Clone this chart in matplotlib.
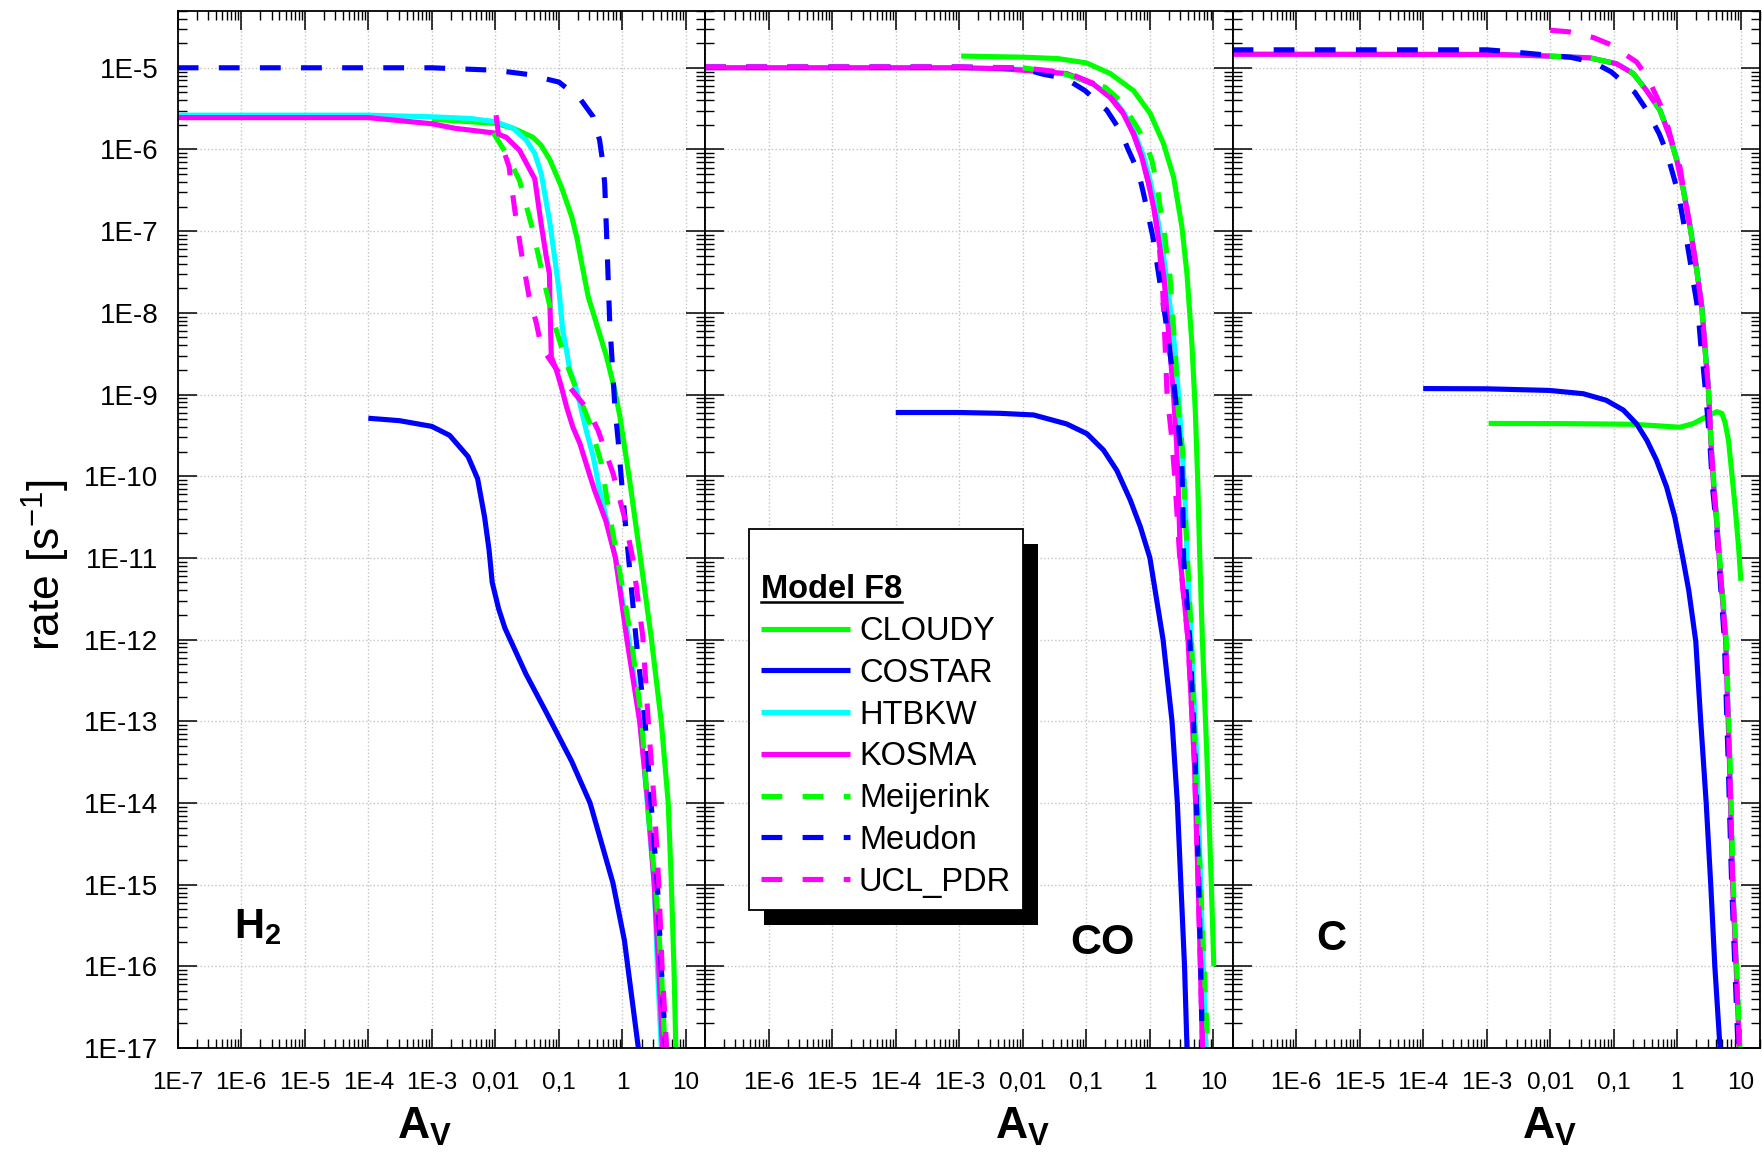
import numpy as np
import matplotlib
matplotlib.use('Agg')
import matplotlib.pyplot as plt
from matplotlib.ticker import FixedLocator, FixedFormatter, LogLocator, NullFormatter
from matplotlib.patches import Rectangle
from matplotlib.lines import Line2D

plt.rcParams['font.family'] = ['Liberation Sans', 'DejaVu Sans']
plt.rcParams['mathtext.fontset'] = 'custom'
plt.rcParams['mathtext.rm'] = 'Liberation Sans'
plt.rcParams['mathtext.bf'] = 'Liberation Sans:bold'
plt.rcParams['mathtext.it'] = 'Liberation Sans:italic'

# ---- data: log10(A_V) and log10(rate) ----
models = ['CLOUDY', 'COSTAR', 'HTBKW', 'KOSMA', 'Meijerink', 'Meudon', 'UCL_PDR']
panel_names = ['H2', 'CO', 'C']

# H2
h2_cloudy_lav = [-3.0, -2.4, -2.0, -1.72, -1.41, -1.28, -1.14, -0.96, -0.80, -0.72, -0.65, -0.54, -0.41, -0.25, -0.12, -0.04, 0.04, 0.12, 0.28, 0.45, 0.61, 0.72, 0.77, 0.81, 0.84]
h2_cloudy_lr = [-5.63, -5.66, -5.68, -5.74, -5.85, -5.95, -6.13, -6.46, -6.82, -7.07, -7.36, -7.80, -8.13, -8.54, -8.95, -9.27, -9.68, -10.09, -10.99, -11.96, -13.0, -14.0, -15.0, -16.0, -17.0]
h2_costar_lav = [-4.0, -3.51, -3.0, -2.72, -2.43, -2.28, -2.17, -2.1, -2.05, -1.95, -1.85, -1.52, -1.2, -0.8, -0.51, -0.15, 0.03, 0.25]
h2_costar_lr = [-9.29, -9.32, -9.39, -9.5, -9.76, -10.03, -10.5, -10.9, -11.3, -11.62, -11.86, -12.42, -12.89, -13.49, -14.0, -14.98, -15.68, -17.0]
h2_htbkw_lav = [-7.0, -4.0, -3.0, -2.4, -2.0, -1.72, -1.51, -1.38, -1.28, -1.14, -1.07, -1.0, -0.94, -0.88, -0.83, -0.75, -0.67, -0.57, -0.46, -0.38, -0.26, -0.11, 0.1, 0.28, 0.39, 0.5, 0.55, 0.61]
h2_htbkw_lr = [-5.58, -5.58, -5.6, -5.62, -5.66, -5.74, -5.89, -6.05, -6.29, -6.91, -7.31, -7.72, -8.21, -8.46, -8.7, -8.87, -9.11, -9.44, -9.76, -10.09, -10.5, -11.0, -12.0, -13.0, -14.0, -15.0, -16.0, -17.0]
h2_kosma_lav = [-7.0, -4.0, -3.0, -2.64, -2.0, -1.83, -1.62, -1.38, -1.28, -1.2, -1.15, -1.14, -1.12, -1.04, -0.96, -0.88, -0.78, -0.67, -0.57, -0.44, -0.26, -0.11, 0.07, 0.27, 0.4, 0.5, 0.57, 0.63]
h2_kosma_lr = [-5.61, -5.61, -5.685, -5.74, -5.8, -5.85, -6.01, -6.36, -6.91, -7.31, -7.52, -7.93, -8.54, -8.7, -8.91, -9.15, -9.4, -9.6, -9.85, -10.17, -10.55, -11.0, -12.0, -13.0, -14.0, -15.0, -16.0, -17.0]
h2_meijerink_lav = [-2.03, -1.83, -1.62, -1.41, -1.25, -1.09, -0.88, -0.72, -0.51, -0.33, -0.22, -0.08, 0.14, 0.305, 0.39, 0.52, 0.61, 0.667]
h2_meijerink_lr = [-5.8, -6.05, -6.38, -6.99, -7.56, -8.09, -8.62, -8.95, -9.36, -9.85, -10.4, -11.0, -12.0, -13.0, -14.0, -15.0, -16.0, -17.0]
h2_meudon_lav = [-7.0, -3.0, -2.0, -1.5, -1.0, -0.67, -0.46, -0.36, -0.315, -0.28, -0.25, -0.226, -0.2, -0.157, -0.12, -0.068, -0.016, 0.1, 0.21, 0.355, 0.45, 0.55, 0.61, 0.68]
h2_meudon_lr = [-5.0, -5.0, -5.03, -5.08, -5.175, -5.376, -5.6, -5.886, -6.13, -6.416, -7.03, -7.56, -8.13, -8.66, -9.15, -9.56, -10.05, -11.03, -11.96, -13.0, -14.0, -15.0, -16.0, -17.0]
h2_ucl_lav = [-1.99, -1.95, -1.88, -1.785, -1.695, -1.59, -1.47, -1.354, -1.276, -1.066, -0.83, -0.54, -0.383, -0.147, 0.03, 0.16, 0.319, 0.406, 0.5, 0.572, 0.623, 0.695]
h2_ucl_lr = [-5.58, -5.82, -5.99, -6.21, -6.74, -7.27, -7.8, -8.13, -8.42, -8.66, -8.91, -9.19, -9.44, -9.97, -10.5, -11.0, -11.96, -13.0, -14.0, -15.0, -16.0, -17.0]

# CO
co_cloudy_lav = [-2.97, -2.0, -1.45, -1.0, -0.625, -0.257, 0.005, 0.215, 0.373, 0.504, 0.583, 0.661, 0.714, 0.75, 0.785, 0.826, 0.9, 0.967, 1.006]
co_cloudy_lr = [-4.856, -4.87, -4.887, -4.94, -5.07, -5.28, -5.56, -5.93, -6.34, -6.95, -7.52, -8.38, -9.19, -10.0, -11.0, -12.0, -13.5, -15.0, -16.0]
co_costar_lav = [-4.0, -3.0, -2.36, -1.83, -1.31, -0.99, -0.73, -0.52, -0.31, -0.15, 0.0, 0.207, 0.348, 0.432, 0.488, 0.545, 0.584]
co_costar_lr = [-9.22, -9.22, -9.23, -9.25, -9.36, -9.48, -9.68, -9.93, -10.29, -10.62, -11.0, -12.0, -13.0, -14.0, -15.0, -16.0, -17.0]
co_htbkw_lav = [-7.0, -3.0, -2.0, -1.3, -0.89, -0.6, -0.4, -0.24, -0.1, 0.01, 0.1, 0.18, 0.26, 0.33, 0.4, 0.45, 0.5, 0.55, 0.585, 0.65, 0.74, 0.8, 0.84, 0.88]
co_htbkw_lr = [-5.0, -5.0, -5.02, -5.08, -5.2, -5.36, -5.56, -5.8, -6.08, -6.4, -6.75, -7.11, -7.56, -8.0, -8.5, -9.0, -9.6, -10.2, -11.0, -12.0, -13.5, -15.0, -16.0, -17.0]
co_kosma_lav = [-7.0, -3.0, -2.36, -1.31, -0.89, -0.63, -0.42, -0.26, -0.13, -0.02, 0.07, 0.14, 0.22, 0.27, 0.32, 0.37, 0.42, 0.45, 0.48, 0.6, 0.7, 0.76, 0.795, 0.826]
co_kosma_lr = [-5.0, -5.0, -5.01, -5.07, -5.2, -5.36, -5.56, -5.81, -6.09, -6.42, -6.75, -7.11, -7.56, -8.01, -8.5, -8.99, -9.6, -10.21, -11.03, -12.0, -13.5, -15.0, -16.0, -17.0]
co_meijerink_lav = [-2.0, -1.36, -0.7, -0.47, -0.2, -0.07, 0.03, 0.11, 0.16, 0.215, 0.26, 0.31, 0.36, 0.40, 0.45, 0.52, 0.55, 0.575, 0.657, 0.713, 0.798, 0.854, 0.91]
co_meijerink_lr = [-5.0, -5.07, -5.24, -5.4, -5.73, -5.91, -6.13, -6.42, -6.7, -6.91, -7.24, -7.48, -8.05, -8.5, -9.23, -9.72, -10.38, -10.74, -12.02, -13.5, -15.0, -16.0, -17.0]
co_meudon_lav = [-7.0, -3.0, -2.3, -2.0, -1.675, -1.33, -1.02, -0.677, -0.467, -0.336, -0.18, -0.1, 0.047, 0.136, 0.241, 0.373, 0.45, 0.504, 0.52, 0.53, 0.63, 0.714, 0.77, 0.80, 0.826]
co_meudon_lr = [-4.99, -4.99, -5.0, -5.01, -5.08, -5.13, -5.28, -5.52, -5.77, -6.01, -6.28, -6.54, -7.07, -7.52, -8.05, -8.83, -9.4, -9.89, -10.42, -11.0, -12.02, -13.5, -15.0, -16.0, -17.0]
co_ucl_lav = [-7.0, -3.0, -2.0, -1.3, -0.89, -0.63, -0.42, -0.26, -0.13, -0.02, 0.07, 0.14, 0.2, 0.24, 0.27, 0.34, 0.39, 0.43, 0.47, 0.6, 0.7, 0.76, 0.795, 0.83]
co_ucl_lr = [-4.99, -4.99, -5.0, -5.06, -5.19, -5.35, -5.55, -5.8, -6.08, -6.41, -6.75, -7.11, -7.7, -8.4, -9.0, -9.5, -10.0, -10.5, -11.0, -12.0, -13.5, -15.0, -16.0, -17.0]

# C
c_cloudy_lav = [-2.97, -1.75, -0.7, -0.17, 0.04, 0.25, 0.41, 0.52, 0.62, 0.70, 0.75, 0.805, 0.858, 0.91, 0.963, 1.0]
c_cloudy_lr = [-9.354, -9.356, -9.364, -9.39, -9.40, -9.356, -9.29, -9.25, -9.21, -9.23, -9.34, -9.56, -9.97, -10.38, -10.86, -11.28]
c_costar_lav = [-4.0, -3.0, -2.01, -1.48, -1.12, -0.85, -0.64, -0.48, -0.33, -0.17, -0.04, 0.084, 0.18, 0.29, 0.37, 0.455, 0.526, 0.59, 0.672]
c_costar_lr = [-8.927, -8.93, -8.95, -8.99, -9.07, -9.19, -9.36, -9.56, -9.8, -10.13, -10.5, -10.99, -11.4, -12.02, -13.02, -14.01, -15.0, -16.0, -17.0]
c_htbkw_lav = [-7.0, -2.8, -2.01, -1.38, -0.95, -0.69, -0.48, -0.27, -0.11, 0.0, 0.1, 0.205, 0.31, 0.39, 0.442, 0.495, 0.531, 0.573, 0.625, 0.663, 0.765, 0.825, 0.875, 0.93, 0.98]
c_htbkw_lr = [-4.834, -4.837, -4.857, -4.878, -4.95, -5.07, -5.28, -5.52, -5.85, -6.13, -6.5, -6.95, -7.48, -7.93, -8.46, -8.95, -9.56, -10.09, -10.58, -10.99, -12.0, -13.5, -15.0, -16.0, -17.0]
c_kosma_lav = [-7.0, -2.8, -2.01, -1.38, -0.958, -0.695, -0.484, -0.274, -0.116, -0.01, 0.095, 0.2, 0.305, 0.384, 0.437, 0.49, 0.526, 0.568, 0.62, 0.658, 0.76, 0.82, 0.87, 0.925, 0.975]
c_kosma_lr = [-4.834, -4.837, -4.857, -4.878, -4.95, -5.07, -5.28, -5.52, -5.85, -6.13, -6.5, -6.95, -7.48, -7.93, -8.46, -8.95, -9.56, -10.09, -10.58, -10.99, -12.0, -13.5, -15.0, -16.0, -17.0]
c_meijerink_lav = [-2.01, -1.38, -0.958, -0.695, -0.484, -0.274, -0.116, -0.01, 0.095, 0.2, 0.305, 0.384, 0.437, 0.49, 0.53, 0.575, 0.625, 0.665, 0.77, 0.83, 0.88, 0.935, 0.985]
c_meijerink_lr = [-4.857, -4.878, -4.95, -5.07, -5.28, -5.52, -5.85, -6.13, -6.5, -6.95, -7.48, -7.93, -8.46, -8.95, -9.56, -10.09, -10.58, -10.99, -12.0, -13.5, -15.0, -16.0, -17.0]
c_meudon_lav = [-7.0, -3.0, -2.67, -1.98, -1.69, -1.33, -1.04, -0.67, -0.48, -0.284, -0.17, -0.063, 0.016, 0.084, 0.137, 0.2, 0.242, 0.305, 0.337, 0.368, 0.4, 0.437, 0.463, 0.49, 0.516, 0.553, 0.62, 0.647, 0.74, 0.80, 0.855, 0.905, 0.955]
c_meudon_lr = [-4.78, -4.78, -4.8, -4.85, -4.87, -4.93, -5.05, -5.3, -5.52, -5.81, -6.03, -6.32, -6.54, -6.83, -7.07, -7.36, -7.58, -7.87, -8.09, -8.38, -8.6, -8.91, -9.15, -9.4, -9.64, -10.13, -10.66, -10.97, -12.0, -13.5, -15.0, -16.0, -17.0]
c_ucl_lav = [-2.0, -1.7, -1.32, -1.05, -0.64, -0.46, -0.274, -0.17, -0.063, 0.042, 0.1, 0.2, 0.305, 0.384, 0.437, 0.49, 0.526, 0.568, 0.62, 0.658, 0.76, 0.82, 0.87, 0.925, 0.975]
c_ucl_lr = [-4.54, -4.56, -4.63, -4.716, -4.93, -5.13, -5.44, -5.66, -5.97, -6.22, -6.5, -6.95, -7.48, -7.93, -8.46, -8.95, -9.56, -10.09, -10.58, -10.99, -12.0, -13.5, -15.0, -16.0, -17.0]

x_tick_vals = [1e-7, 1e-6, 1e-5, 1e-4, 1e-3, 1e-2, 1e-1, 1, 10]
x_tick_labels = ['1E-7', '1E-6', '1E-5', '1E-4', '1E-3', '0,01', '0,1', '1', '10']
y_tick_vals = [10.0 ** e for e in range(-17, -4)]
y_tick_labels = ['1E%d' % e for e in range(-17, -4)]

panel_data = [
    [(h2_cloudy_lav, h2_cloudy_lr), (h2_costar_lav, h2_costar_lr), (h2_htbkw_lav, h2_htbkw_lr),
     (h2_kosma_lav, h2_kosma_lr), (h2_meijerink_lav, h2_meijerink_lr), (h2_meudon_lav, h2_meudon_lr),
     (h2_ucl_lav, h2_ucl_lr)],
    [(co_cloudy_lav, co_cloudy_lr), (co_costar_lav, co_costar_lr), (co_htbkw_lav, co_htbkw_lr),
     (co_kosma_lav, co_kosma_lr), (co_meijerink_lav, co_meijerink_lr), (co_meudon_lav, co_meudon_lr),
     (co_ucl_lav, co_ucl_lr)],
    [(c_cloudy_lav, c_cloudy_lr), (c_costar_lav, c_costar_lr), (c_htbkw_lav, c_htbkw_lr),
     (c_kosma_lav, c_kosma_lr), (c_meijerink_lav, c_meijerink_lr), (c_meudon_lav, c_meudon_lr),
     (c_ucl_lav, c_ucl_lr)],
]

colors = ['#00ff00', '#0000ff', '#00ffff', '#ff00ff', '#00ff00', '#0000ff', '#ff00ff']
dash = (0, (4.05, 3.95))
styles = ['-', '-', '-', '-', dash, dash, dash]
LW = 3.7

W, H = 1762, 1156
fig = plt.figure(figsize=(W / 100, H / 100), dpi=100)

left, right_edge, top, bottom = 177.7, 1760.0, 10.7, 1048.0
pw = (right_edge - left) / 3
axes = []
for i in range(3):
    ax = fig.add_axes([(left + i * pw) / W, 1 - bottom / H, pw / W, (bottom - top) / H])
    axes.append(ax)

for i, ax in enumerate(axes):
    for (lav, lr), col, ls, name in zip(panel_data[i], colors, styles, models):
        ax.plot(np.power(10.0, lav), np.power(10.0, lr), color=col, linestyle=ls,
                linewidth=LW, label=name, solid_capstyle='butt', solid_joinstyle='round')
    ax.set_xscale('log')
    ax.set_yscale('log')
    ax.set_xlim(1e-7, 20)
    ax.set_ylim(1e-17, 5e-5)

    ax.xaxis.set_major_locator(FixedLocator(x_tick_vals))
    labs = list(x_tick_labels)
    if i > 0:
        labs[0] = ''
    ax.xaxis.set_major_formatter(FixedFormatter(labs))
    ax.xaxis.set_minor_locator(LogLocator(base=10, subs=np.arange(2, 10), numticks=50))
    ax.xaxis.set_minor_formatter(NullFormatter())
    ax.yaxis.set_major_locator(FixedLocator(y_tick_vals))
    ax.yaxis.set_major_formatter(FixedFormatter(y_tick_labels))
    ax.yaxis.set_minor_locator(LogLocator(base=10, subs=np.arange(2, 10), numticks=50))
    ax.yaxis.set_minor_formatter(NullFormatter())

    ax.tick_params(which='both', direction='in', top=True, right=True)
    ax.tick_params(which='major', length=13.5, width=1.1)
    ax.tick_params(which='minor', length=6.8, width=1.0)
    ax.tick_params(axis='x', labelsize=17.5, pad=17)
    ax.tick_params(axis='y', labelsize=20, pad=14)
    if i > 0:
        ax.tick_params(axis='y', labelleft=False)
    for sp in ax.spines.values():
        sp.set_linewidth(1.3)
    ax.grid(True, which='major', color='#c4c4c4', linestyle=':', linewidth=1.0)

    ax.text([0.416, 0.55, 0.549][i], -0.0877, r'$\mathbf{A}_\mathbf{V}$', transform=ax.transAxes,
            fontsize=32, ha='left', va='baseline', clip_on=False)

axes[0].text(0.107, 0.106, r'$\mathbf{H}_\mathbf{2}$', transform=axes[0].transAxes,
             fontsize=30, ha='left', va='baseline')
axes[1].text(0.692, 0.0906, 'CO', transform=axes[1].transAxes, fontsize=31,
             fontweight='bold', ha='left', va='baseline')
axes[2].text(0.158, 0.0945, 'C', transform=axes[2].transAxes, fontsize=30,
             fontweight='bold', ha='left', va='baseline')

fig.text(46 / W, 1 - 565 / H, r'rate [s$^{-1}$]', rotation=90, fontsize=32,
         ha='center', va='center')

# legend with solid shadow and underlined title
ax2 = axes[1]
handles, labels = ax2.get_legend_handles_labels()
leg = ax2.legend(handles, labels, loc='upper left',
                 bbox_to_anchor=(748.6 / W, 1 - 528.9 / H), bbox_transform=fig.transFigure,
                 borderaxespad=0, fontsize=23.5, title='\nModel F8',
                 title_fontproperties={'weight': 'bold', 'size': 23.5}, alignment='left',
                 fancybox=False, framealpha=1, edgecolor='black',
                 handlelength=2.73, handletextpad=0.27, labelspacing=0.33, borderpad=0.38)
leg.get_frame().set_linewidth(1.3)
leg.get_title().set_linespacing(1.08)

fig.canvas.draw()
renderer = fig.canvas.get_renderer()
fb = leg.get_frame().get_window_extent(renderer)
shadow = Rectangle(((fb.x0 + 15) / W, (fb.y0 - 15) / H), fb.width / W, fb.height / H,
                   transform=fig.transFigure, facecolor='black', edgecolor='none',
                   zorder=4.9, clip_on=False)
ax2.add_artist(shadow)
tb = leg.get_title().get_window_extent(renderer)
uy = (tb.y0 + 3) / H
ax2.add_artist(Line2D([tb.x0 / W, tb.x1 / W], [uy, uy], transform=fig.transFigure,
                      color='black', linewidth=1.8, zorder=6, clip_on=False))

fig.savefig('out.png', dpi=100)
